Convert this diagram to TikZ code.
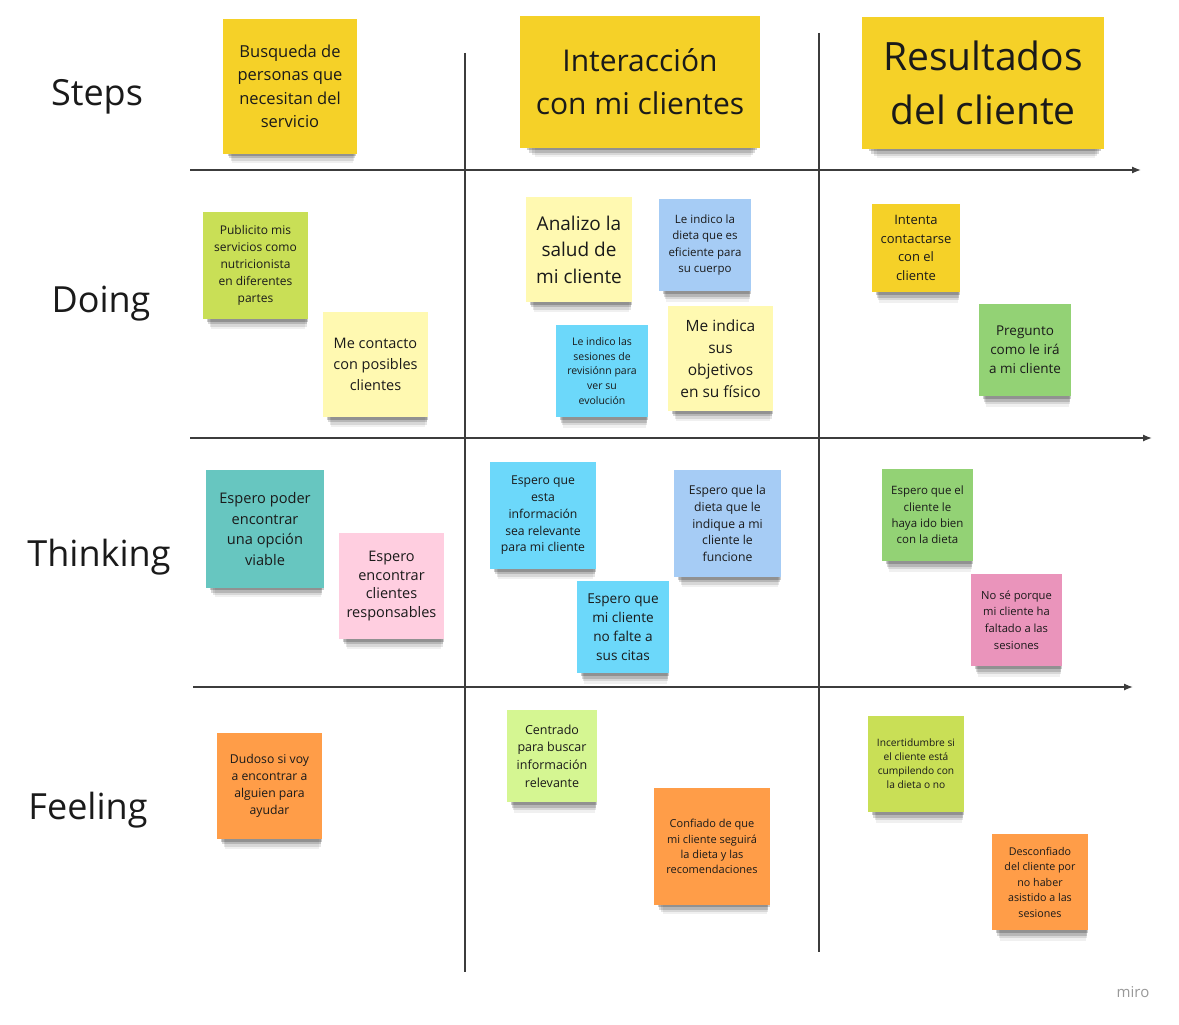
\documentclass[tikz,border=0pt]{standalone}
\usepackage{fontspec}
\setmainfont{Open Sans}
\usepackage{tikz}
\usetikzlibrary{arrows.meta, shadows}

\definecolor{notetext}{HTML}{1A1A1A}
\definecolor{axisgray}{HTML}{3C3C3C}
\definecolor{yellow}{HTML}{F5D128}
\definecolor{paleyellow}{HTML}{FFF9B1}
\definecolor{lime}{HTML}{C9DF56}
\definecolor{palelime}{HTML}{D5F692}
\definecolor{green}{HTML}{93D275}
\definecolor{lightblue}{HTML}{A6CCF5}
\definecolor{cyan}{HTML}{6CD8FA}
\definecolor{teal}{HTML}{67C6C0}
\definecolor{lightpink}{HTML}{FFCEE0}
\definecolor{pink}{HTML}{EA94BB}
\definecolor{orange}{HTML}{FF9D48}

\begin{document}
\begin{tikzpicture}[
    x = 1pt, y = -1pt,
    axis/.style = {line width=1.3pt, draw=axisgray, -{Latex[length=9pt, width=7pt]}},
    rule/.style = {line width=1.3pt, draw=axisgray},
    lane/.style = {text=notetext, font={\fontsize{36}{40}\selectfont}},
    sticky/.style = {inner sep=0pt, align=center, text=notetext,
      drop shadow={shadow xshift=3pt, shadow yshift=-17pt, shadow scale=0.9, fill=black, opacity=.06},
      drop shadow={shadow xshift=3pt, shadow yshift=-13pt, shadow scale=0.92, fill=black, opacity=.1},
      drop shadow={shadow xshift=2pt, shadow yshift=-9pt, shadow scale=0.94, fill=black, opacity=.15},
      drop shadow={shadow xshift=2pt, shadow yshift=-5pt, shadow scale=0.96, fill=black, opacity=.2}},
    note/.style n args = {3}{sticky, fill=#1, minimum width=#2, minimum height=#3}
    ]
    \useasboundingbox[fill=white] (0,0) rectangle (1179,1025);

    % grid
    \coordinate (row1w) at (190,170);  \coordinate (row1e) at (1141,170);
    \coordinate (row2w) at (190,438);  \coordinate (row2e) at (1152,438);
    \coordinate (row3w) at (193,687);  \coordinate (row3e) at (1133,687);
    \coordinate (col1n) at (465,53);   \coordinate (col1s) at (465,972);
    \coordinate (col2n) at (819,33);   \coordinate (col2s) at (819,952);
    \draw[rule] (col1n) -- (col1s);
    \draw[rule] (col2n) -- (col2s);
    \draw[axis] (row1w) -- (row1e);
    \draw[axis] (row2w) -- (row2e);
    \draw[axis] (row3w) -- (row3e);

    % lanes
    \node[lane] (steps) at (97,97) {Steps};
    \node[lane] (doing) at (101,304) {Doing};
    \node[lane] (thinking) at (99,557) {Thinking};
    \node[lane] (feeling) at (88,810) {Feeling};

    % steps
    \node[note={yellow}{134}{135}, font={\fontsize{16.5}{23.5}\selectfont}] (busqueda) at (290,86.5)
      {Busqueda de\\personas que\\necesitan del\\servicio};
    \node[note={yellow}{240}{132}, font={\fontsize{30}{43}\selectfont}] (interaccion) at (640,82)
      {Interacción\\con mi clientes};
    \node[note={yellow}{242}{132}, font={\fontsize{39}{54}\selectfont}] (resultados) at (983,83)
      {Resultados\\del cliente};

    % doing
    \node[note={lime}{105}{107}, font={\fontsize{12}{17}\selectfont}] (publicito) at (255.5,265.5)
      {Publicito mis\\servicios como\\nutricionista\\en diferentes\\partes};
    \node[note={paleyellow}{105}{105}, font={\fontsize{14.5}{21}\selectfont}] (contacto) at (375.5,364.5)
      {Me contacto\\con posibles\\clientes};
    \node[note={paleyellow}{106}{105}, font={\fontsize{19}{26.5}\selectfont}] (analizo) at (579,249.5)
      {Analizo la\\salud de\\mi cliente};
    \node[note={lightblue}{92}{92}, font={\fontsize{11.5}{16.5}\selectfont}] (dieta) at (705,245)
      {Le indico la\\dieta que es\\eficiente para\\su cuerpo};
    \node[note={cyan}{92}{92}, font={\fontsize{10.5}{14.7}\selectfont}] (sesiones) at (602,371)
      {Le indico las\\sesiones de\\revisiónn para\\ver su\\evolución};
    \node[note={paleyellow}{105}{105}, font={\fontsize{15.5}{22}\selectfont}] (objetivos) at (720.5,358.5)
      {Me indica\\sus\\objetivos\\en su físico};
    \node[note={yellow}{88}{88}, font={\fontsize{13}{18.5}\selectfont}] (intenta) at (916,248)
      {Intenta\\contactarse\\con el\\cliente};
    \node[note={green}{92}{92}, font={\fontsize{13.5}{19}\selectfont}] (pregunto) at (1025,350)
      {Pregunto\\como le irá\\a mi cliente};

    % thinking
    \node[note={teal}{118}{118}, font={\fontsize{14.6}{20.5}\selectfont}] (poder) at (265,529)
      {Espero poder\\encontrar\\una opción\\viable};
    \node[note={lightpink}{105}{106}, font={\fontsize{14.5}{18.7}\selectfont}] (responsables) at (391.5,586)
      {Espero\\encontrar\\clientes\\responsables};
    \node[note={cyan}{106}{107}, font={\fontsize{12.2}{16.7}\selectfont}] (informacion) at (543,515.5)
      {Espero que\\esta\\información\\sea relevante\\para mi cliente};
    \node[note={lightblue}{107}{107}, font={\fontsize{12.2}{16.7}\selectfont}] (funcione) at (727.5,523.5)
      {Espero que la\\dieta que le\\indique a mi\\cliente le\\funcione};
    \node[note={cyan}{92}{92}, font={\fontsize{13.6}{19}\selectfont}] (citas) at (623,627)
      {Espero que\\mi cliente\\no falte a\\sus citas};
    \node[note={green}{91}{92}, font={\fontsize{11.5}{16.3}\selectfont}] (bien) at (927.5,515)
      {Espero que el\\cliente le\\haya ido bien\\con la dieta};
    \node[note={pink}{91}{92}, font={\fontsize{11.2}{16.7}\selectfont}] (faltado) at (1016.5,620)
      {No sé porque\\mi cliente ha\\faltado a las\\sesiones};

    % feeling
    \node[note={orange}{105}{106}, font={\fontsize{12.2}{17}\selectfont}] (dudoso) at (269.5,786)
      {Dudoso si voy\\a encontrar a\\alguien para\\ayudar};
    \node[note={palelime}{90}{92}, font={\fontsize{12.5}{17.7}\selectfont}] (centrado) at (552,756)
      {Centrado\\para buscar\\información\\relevante};
    \node[note={orange}{116}{117}, font={\fontsize{11}{15.3}\selectfont}] (confiado) at (712,846.5)
      {Confiado de que\\mi cliente seguirá\\la dieta y las\\recomendaciones};
    \node[note={lime}{96}{96}, font={\fontsize{10.2}{14}\selectfont}] (incertidumbre) at (916,764)
      {Incertidumbre si\\el cliente está\\cumpilendo con\\la dieta o no};
    \node[note={orange}{96}{96}, font={\fontsize{10.7}{15.5}\selectfont}] (desconfiado) at (1040,882)
      {Desconfiado\\del cliente por\\no haber\\asistido a las\\sesiones};

    \node[text=black!40, font={\fontsize{15}{17}\selectfont}] (miro) at (1133,992) {miro};
\end{tikzpicture}
\end{document}
